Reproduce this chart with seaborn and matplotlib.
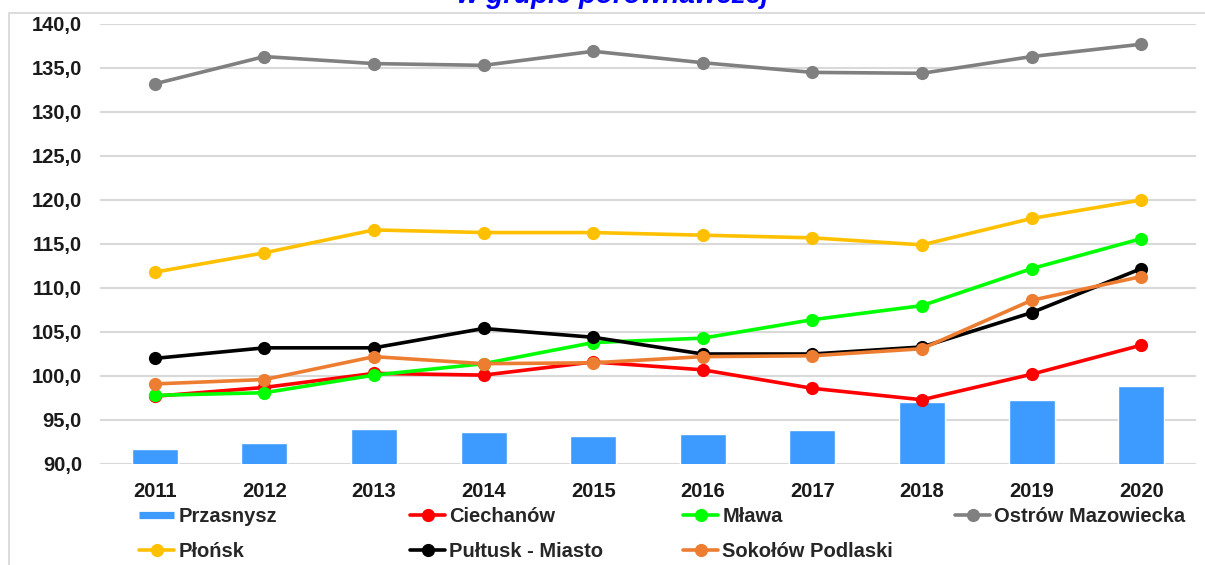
import pandas as pd
import seaborn as sns
import matplotlib.pyplot as plt
from matplotlib.lines import Line2D
from matplotlib.patches import Rectangle

years = ["2011", "2012", "2013", "2014", "2015", "2016", "2017", "2018", "2019", "2020"]

przasnysz = [91.7, 92.4, 94.0, 93.6, 93.2, 93.4, 93.9, 97.0, 97.3, 98.9]
ciechanow = [97.7, 98.7, 100.3, 100.1, 101.6, 100.7, 98.6, 97.3, 100.2, 103.5]
mlawa = [97.8, 98.1, 100.1, 101.4, 103.8, 104.3, 106.4, 108.0, 112.2, 115.6]
ostrow = [133.2, 136.3, 135.5, 135.3, 136.9, 135.6, 134.5, 134.4, 136.3, 137.7]
plonsk = [111.8, 114.0, 116.6, 116.3, 116.3, 116.0, 115.7, 114.9, 117.9, 120.0]
pultusk = [102.0, 103.2, 103.2, 105.4, 104.4, 102.5, 102.5, 103.3, 107.2, 112.2]
sokolow = [99.1, 99.6, 102.2, 101.4, 101.5, 102.2, 102.3, 103.1, 108.6, 111.3]

line_series = {
    "Ciechanów": ciechanow,
    "Mława": mlawa,
    "Ostrów Mazowiecka": ostrow,
    "Płońsk": plonsk,
    "Pułtusk - Miasto": pultusk,
    "Sokołów Podlaski": sokolow,
}
colors = {
    "Przasnysz": "#3d9bff",
    "Ciechanów": "#ff0000",
    "Mława": "#00ff00",
    "Ostrów Mazowiecka": "#808080",
    "Płońsk": "#ffc000",
    "Pułtusk - Miasto": "#000000",
    "Sokołów Podlaski": "#ed7d31",
}

sns.set_theme(style="white")
plt.rcParams["font.family"] = ["Liberation Sans", "DejaVu Sans"]
plt.rcParams["font.weight"] = "bold"

bars = pd.DataFrame({"year": years, "value": przasnysz})
lines = pd.DataFrame(
    [(i, name, v) for name, vals in line_series.items() for i, v in enumerate(vals)],
    columns=["pos", "name", "value"],
)

fig = plt.figure(figsize=(12.05, 5.65), dpi=100)
ax = fig.add_axes([100 / 1205, 1 - 464 / 565, 1096 / 1205, 440 / 565])

sns.barplot(data=bars, x="year", y="value", color=colors["Przasnysz"],
            width=0.42, saturation=1, ax=ax, zorder=2)
sns.lineplot(data=lines, x="pos", y="value", hue="name",
             palette=colors, hue_order=list(line_series), marker="o",
             markersize=9.5, markeredgewidth=0, linewidth=2.6, legend=False,
             ax=ax, zorder=3)

ax.set_xlim(-0.5, 9.5)
ax.set_ylim(90, 140)
ax.set_yticks([90 + 5 * i for i in range(11)])
ax.set_yticklabels([f"{90 + 5 * i},0" for i in range(11)])
ax.set_xticks(range(len(years)))
ax.set_xticklabels(years)
ax.tick_params(axis="both", labelsize=14.5, length=0, colors="#1a1a1a")
ax.tick_params(axis="x", pad=13)
ax.tick_params(axis="y", pad=13)
ax.set_xlabel("")
ax.set_ylabel("")
for s in ax.spines.values():
    s.set_visible(False)
ax.yaxis.grid(True, color="#d9d9d9", linewidth=1.5, zorder=0)
ax.set_axisbelow(True)

# chart frame
fig.add_artist(Rectangle((9 / 1205, -0.1), 1.2, 1.1 - 13 / 565, fill=False,
                         edgecolor="#d9d9d9", linewidth=1.3,
                         transform=fig.transFigure))

# second line of the title, cut by the top edge as in the source image
fig.text(613 / 1205, 1 - 3 / 565, "w grupie porównawczej", color="#0000ff",
         fontsize=20, fontweight="bold", fontstyle="italic",
         ha="center", va="baseline")


def handle(name):
    if name == "Przasnysz":
        return Line2D([], [], color=colors[name], linewidth=5.2,
                      solid_capstyle="butt")
    return Line2D([], [], color=colors[name], linewidth=2.6, marker="o",
                  markersize=9.5, markeredgewidth=0)


columns = [
    (139, ["Przasnysz", "Płońsk"]),
    (410, ["Ciechanów", "Pułtusk - Miasto"]),
    (683, ["Mława", "Sokołów Podlaski"]),
    (955, ["Ostrów Mazowiecka"]),
]
for x, names in columns:
    fig.legend([handle(n) for n in names], names, loc="upper left",
               bbox_to_anchor=(x / 1205, 1 - 507 / 565), frameon=False,
               borderpad=0, borderaxespad=0, handlelength=1.75,
               handletextpad=0.2, labelspacing=0.78,
               prop={"size": 14.5, "weight": "bold"})

fig.savefig("out.png", dpi=100)
